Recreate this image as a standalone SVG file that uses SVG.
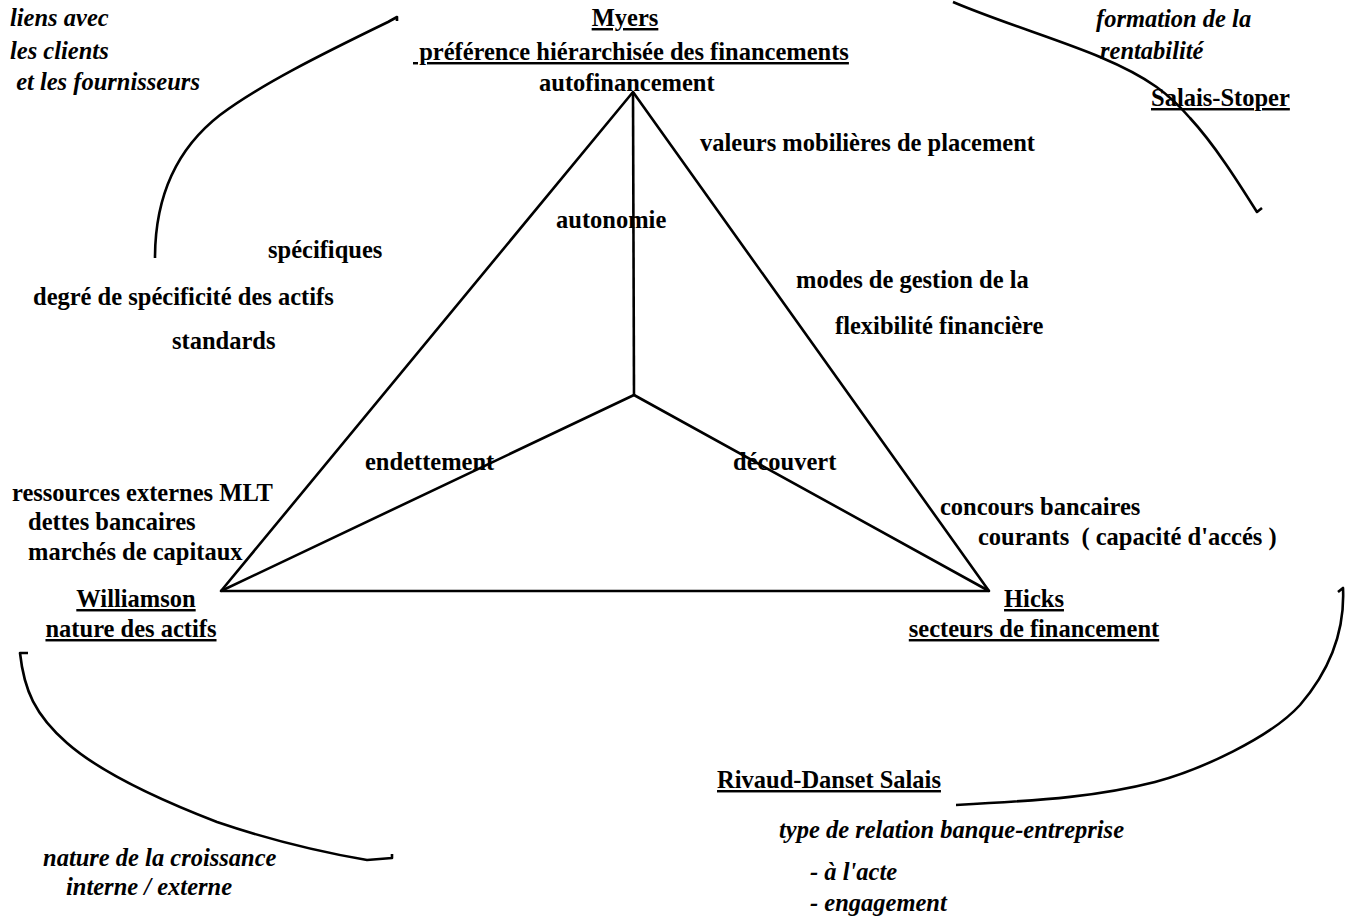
<svg xmlns="http://www.w3.org/2000/svg" width="1348" height="921" viewBox="0 0 1348 921">
<style>
text{font-family:"Liberation Serif","Times New Roman",serif;font-weight:bold;font-size:24.5px;fill:#000;white-space:pre}
.it{font-style:italic}
.u{text-decoration:underline}
.ln{fill:none;stroke:#000;stroke-width:2.6;stroke-linejoin:round;stroke-linecap:butt}
.arc{fill:none;stroke:#000;stroke-width:2.6;stroke-linejoin:round}
</style>
<rect width="1348" height="921" fill="#fff"/>
<g id="connectors">
<polygon class="ln" points="633,92 221,591 989,591"/>
<polyline class="ln" points="633,92 634,395"/>
<polyline class="ln" points="221,591 634,395 989,591"/>
<path class="arc" d="M155,258 C155,200 175,150 220,115 C260,85 320,55 388,22 L397,17 L397,21"/>
<path class="arc" d="M953,2 C1000,22 1060,40 1100,57 C1150,78 1170,95 1190,118 C1215,145 1240,185 1257,212 L1262,208"/>
<path class="arc" d="M28,653 L20,653 C24,690 35,715 67,743 C100,772 160,800 217,822 C270,840 320,852 367,860 L392,858 L392,854"/>
<path class="arc" d="M1338,592 L1343,588 C1345,630 1330,670 1300,705 C1270,738 1200,770 1155,782 C1100,796 1050,800 956,805"/>
</g>
<g id="node-myers">
<text x="625" y="26" text-anchor="middle" class="u">Myers</text>
<text x="413" y="60" class="u"> préférence hiérarchisée des financements</text>
<text x="539" y="91">autofinancement</text>
</g>
<g id="node-salais-stoper">
<text x="1096" y="27" class="it">formation de la</text>
<text x="1100" y="59" class="it">rentabilité</text>
<text x="1151" y="106" class="u">Salais-Stoper</text>
</g>
<g id="node-liens">
<text x="10" y="26" class="it">liens avec</text>
<text x="10" y="59" class="it">les clients</text>
<text x="10" y="90" class="it"> et les fournisseurs</text>
</g>
<g id="node-valeurs">
<text x="700" y="151">valeurs mobilières de placement</text>
</g>
<g id="node-autonomie">
<text x="556" y="228">autonomie</text>
</g>
<g id="node-specificite">
<text x="268" y="258">spécifiques</text>
<text x="33" y="305">degré de spécificité des actifs</text>
<text x="172" y="349">standards</text>
</g>
<g id="node-flexibilite">
<text x="796" y="288">modes de gestion de la</text>
<text x="835" y="334">flexibilité financière</text>
</g>
<g id="node-endettement">
<text x="365" y="470">endettement</text>
</g>
<g id="node-decouvert">
<text x="733" y="470">découvert</text>
</g>
<g id="node-ressources">
<text x="12" y="501">ressources externes MLT</text>
<text x="28" y="530">dettes bancaires</text>
<text x="28" y="560">marchés de capitaux</text>
</g>
<g id="node-concours">
<text x="940" y="515">concours bancaires</text>
<text x="978" y="545">courants  ( capacité d'accés )</text>
</g>
<g id="node-williamson">
<text x="136" y="607" text-anchor="middle" class="u">Williamson</text>
<text x="131" y="637" text-anchor="middle" class="u">nature des actifs</text>
</g>
<g id="node-hicks">
<text x="1034" y="607" text-anchor="middle" class="u">Hicks</text>
<text x="1034" y="637" text-anchor="middle" class="u">secteurs de financement</text>
</g>
<g id="node-rivaud">
<text x="717" y="788" class="u">Rivaud-Danset Salais</text>
<text x="779" y="838" class="it">type de relation banque-entreprise</text>
<text x="810" y="880" class="it">- à l'acte</text>
<text x="810" y="911" class="it">- engagement</text>
</g>
<g id="node-croissance">
<text x="43" y="866" class="it">nature de la croissance</text>
<text x="66" y="895" class="it">interne / externe</text>
</g>
</svg>
